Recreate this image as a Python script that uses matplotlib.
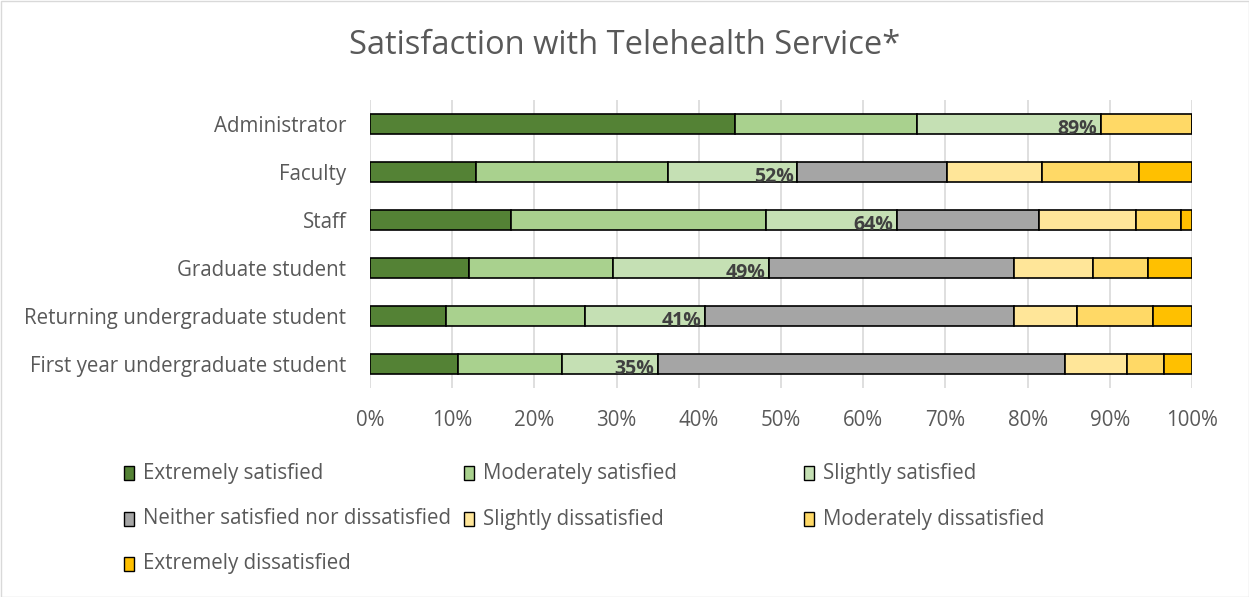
import matplotlib
matplotlib.use("Agg")
import matplotlib.pyplot as plt
from matplotlib.patches import Rectangle
import numpy as np

plt.rcParams['font.family'] = ['Open Sans', 'DejaVu Sans']

categories = ["Administrator", "Faculty", "Staff", "Graduate student",
              "Returning undergraduate student", "First year undergraduate student"]
series_names = ["Extremely satisfied", "Moderately satisfied", "Slightly satisfied",
                "Neither satisfied nor dissatisfied", "Slightly dissatisfied",
                "Moderately dissatisfied", "Extremely dissatisfied"]
extremely_satisfied = [44.4, 12.9, 17.2, 12.0, 9.3, 10.7]
moderately_satisfied = [22.2, 23.4, 31.0, 17.6, 16.8, 12.7]
slightly_satisfied = [22.3, 15.7, 15.9, 19.0, 14.7, 11.6]
neither = [0.0, 18.2, 17.3, 29.8, 37.6, 49.5]
slightly_dissatisfied = [0.0, 11.6, 11.8, 9.5, 7.6, 7.6]
moderately_dissatisfied = [11.1, 11.8, 5.5, 6.8, 9.2, 4.5]
extremely_dissatisfied = [0.0, 6.4, 1.3, 5.3, 4.8, 3.4]
satisfied_labels = ["89%", "52%", "64%", "49%", "41%", "35%"]
colors = ["#548235", "#A9D18E", "#C5E0B4", "#A5A5A5", "#FFE699", "#FFD966", "#FFC000"]

series = [extremely_satisfied, moderately_satisfied, slightly_satisfied, neither,
          slightly_dissatisfied, moderately_dissatisfied, extremely_dissatisfied]

W, H = 1249, 597
fig = plt.figure(figsize=(W / 100, H / 100), dpi=100)
ax = fig.add_axes([370 / W, 1 - 388 / H, (1192 - 370) / W, 288 / H])

y = np.arange(len(categories))
left = np.zeros(len(categories))
for vals, col, name in zip(series, colors, series_names):
    v = np.array(vals)
    ax.barh(y, v, left=left, height=0.42, color=col, edgecolor="black",
            linewidth=1.2, label=name, zorder=3)
    left = left + v

# data labels at end of "Slightly satisfied" segment
ends = np.array(extremely_satisfied) + np.array(moderately_satisfied) + np.array(slightly_satisfied)
for yi, xe, lab in zip(y, ends, satisfied_labels):
    ax.annotate(lab, (xe, yi + 0.2), xytext=(-4, 0), textcoords="offset pixels",
                ha="right", va="baseline", fontsize=14, fontweight="bold",
                color="#404040", zorder=4)

ax.set_xlim(0, 100)
ax.set_ylim(len(categories) - 0.5, -0.5)
ax.set_xticks(np.arange(0, 101, 10))
ax.set_xticklabels([f"{t}%" for t in range(0, 101, 10)])
ax.set_yticks(y)
ax.set_yticklabels(categories)
ax.tick_params(axis="both", length=0, labelsize=14.8, colors="#595959")
ax.tick_params(axis="x", pad=16)
ax.tick_params(axis="y", pad=17)
ax.xaxis.grid(True, color="#D9D9D9", linewidth=1.2, zorder=0)
ax.set_axisbelow(True)
for s in ax.spines.values():
    s.set_visible(False)

fig.text(0.5, 1 - 45 / H, "Satisfaction with Telehealth Service*", ha="center", va="center",
         fontsize=23.5, color="#595959")

# legend
col_x = [124, 464, 804]
row_y = [473, 519, 564]
for i, (name, col) in enumerate(zip(series_names, colors)):
    r, c = divmod(i, 3)
    x0 = col_x[c]
    yc = row_y[r]
    fig.patches.append(Rectangle((x0 / W, 1 - (yc + 7) / H), 10 / W, 14 / H,
                                 transform=fig.transFigure, facecolor=col,
                                 edgecolor="black", linewidth=1.0))
    fig.text((x0 + 19) / W, 1 - yc / H, name, ha="left", va="center",
             fontsize=14.8, color="#595959")

fig.patches.append(Rectangle((0.5 / W, 0.5 / H), 1 - 1 / W, 1 - 1 / H, transform=fig.transFigure,
                             facecolor="none", edgecolor="#D9D9D9", linewidth=1))

fig.savefig("out.png", dpi=100, facecolor="white")
